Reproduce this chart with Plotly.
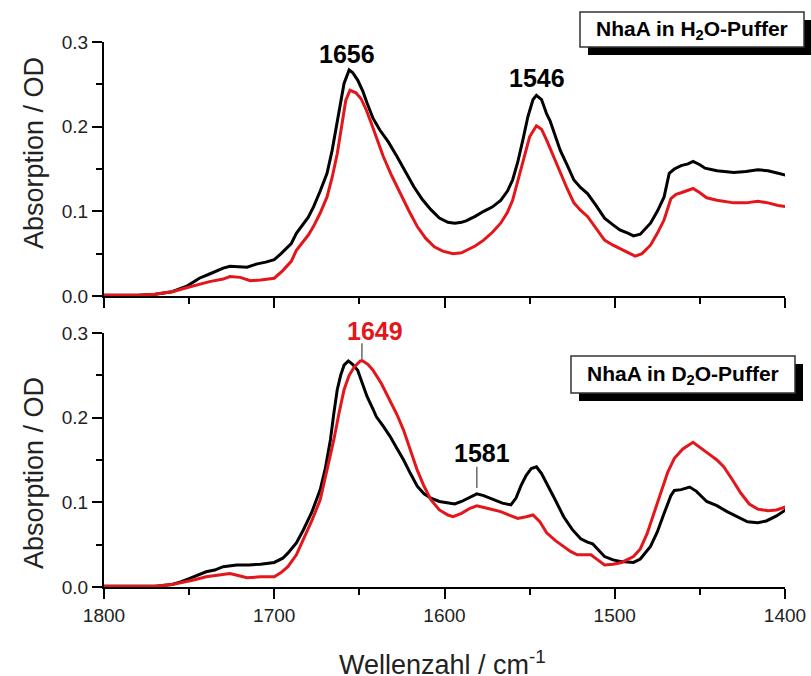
import plotly.graph_objects as go

# ---------------- data ----------------
h2o_wn_black = [1800, 1790, 1780, 1770, 1760, 1751, 1744, 1738, 1730, 1726, 1720, 1716, 1710, 1705, 1700,
                1696, 1690, 1687, 1680, 1677, 1673, 1669, 1666, 1663, 1661, 1659, 1656, 1654, 1651, 1648,
                1645.5, 1642, 1638, 1633, 1628, 1623, 1618, 1613, 1608, 1603, 1598, 1594, 1590, 1587, 1582,
                1577, 1572, 1567, 1563, 1560, 1557, 1554, 1551, 1548, 1546, 1543, 1540, 1538, 1535, 1532,
                1528, 1524, 1520, 1516, 1511, 1506, 1501, 1497, 1492, 1489, 1485, 1479, 1475, 1471, 1468,
                1465, 1461, 1457, 1454, 1450, 1447, 1440, 1430, 1423, 1416, 1410, 1404, 1398]
h2o_abs_black = [0.001, 0.001, 0.001, 0.002, 0.005, 0.012, 0.021, 0.026, 0.033, 0.035, 0.034, 0.034, 0.038, 0.040, 0.043,
                 0.050, 0.062, 0.074, 0.093, 0.105, 0.124, 0.145, 0.172, 0.204, 0.230, 0.251, 0.267, 0.264, 0.255, 0.242,
                 0.228, 0.210, 0.196, 0.182, 0.165, 0.147, 0.129, 0.114, 0.102, 0.092, 0.087, 0.086, 0.087, 0.089, 0.094,
                 0.100, 0.105, 0.113, 0.124, 0.137, 0.158, 0.184, 0.212, 0.232, 0.237, 0.232, 0.215, 0.207, 0.190, 0.172,
                 0.155, 0.137, 0.128, 0.121, 0.107, 0.092, 0.084, 0.078, 0.074, 0.071, 0.073, 0.086, 0.100, 0.117, 0.145,
                 0.150, 0.154, 0.156, 0.159, 0.155, 0.151, 0.148, 0.146, 0.147, 0.149, 0.148, 0.145, 0.142]

h2o_wn_red = [1800, 1790, 1780, 1770, 1760, 1751, 1744, 1738, 1730, 1726, 1720, 1714, 1708, 1700, 1695,
              1690, 1687, 1680, 1677, 1673, 1669, 1666, 1663, 1660, 1658, 1655.5, 1652, 1649, 1646, 1643,
              1640, 1636, 1631, 1626, 1621, 1616, 1611, 1606, 1601, 1595, 1590, 1587, 1582, 1577, 1572,
              1567, 1563, 1560, 1557, 1553, 1550, 1546, 1543, 1540, 1536, 1532, 1528, 1524, 1520, 1516,
              1511, 1506, 1501, 1497, 1492, 1488, 1484, 1479, 1475, 1471, 1467, 1464, 1461, 1457, 1454,
              1450, 1446, 1440, 1430, 1423, 1416, 1410, 1404, 1398]
h2o_abs_red = [0.001, 0.001, 0.001, 0.002, 0.005, 0.010, 0.014, 0.017, 0.020, 0.023, 0.022, 0.018, 0.019, 0.021, 0.030,
               0.041, 0.054, 0.072, 0.082, 0.098, 0.117, 0.140, 0.168, 0.208, 0.231, 0.243, 0.240, 0.233, 0.220, 0.204,
               0.187, 0.165, 0.142, 0.121, 0.101, 0.082, 0.068, 0.058, 0.053, 0.050, 0.051, 0.054, 0.059, 0.066, 0.075,
               0.086, 0.099, 0.113, 0.135, 0.165, 0.188, 0.201, 0.197, 0.184, 0.165, 0.145, 0.127, 0.110, 0.101, 0.094,
               0.080, 0.066, 0.060, 0.056, 0.051, 0.047, 0.050, 0.060, 0.074, 0.090, 0.115, 0.120, 0.122, 0.125, 0.127,
               0.122, 0.116, 0.113, 0.110, 0.110, 0.112, 0.110, 0.107, 0.105]

d2o_wn_black = [1800, 1790, 1780, 1770, 1760, 1755, 1750, 1745, 1740, 1735, 1730, 1722, 1715, 1708, 1700,
                1695, 1692, 1687, 1683, 1678, 1673, 1670, 1667, 1665, 1663, 1661, 1659, 1656.5, 1654, 1651,
                1648, 1645.5, 1642, 1640, 1636, 1632, 1628, 1624, 1620, 1616, 1612, 1608, 1603, 1598, 1594,
                1590, 1585, 1581, 1577, 1571, 1566, 1561, 1558, 1555, 1552, 1549, 1546, 1543, 1540, 1535,
                1530, 1525, 1520, 1516, 1513, 1510, 1506, 1501, 1496, 1489, 1485, 1479, 1475, 1471, 1467,
                1465, 1461, 1456, 1452, 1446, 1440, 1434, 1428, 1422, 1416, 1411, 1405, 1399]
d2o_abs_black = [0.001, 0.001, 0.001, 0.001, 0.003, 0.006, 0.010, 0.014, 0.018, 0.020, 0.024, 0.026, 0.026, 0.027, 0.029,
                 0.034, 0.040, 0.052, 0.067, 0.088, 0.115, 0.140, 0.174, 0.205, 0.233, 0.250, 0.262, 0.267, 0.263, 0.256,
                 0.240, 0.225, 0.210, 0.201, 0.190, 0.178, 0.164, 0.150, 0.134, 0.119, 0.110, 0.105, 0.101, 0.099, 0.098,
                 0.101, 0.106, 0.110, 0.108, 0.103, 0.099, 0.097, 0.105, 0.120, 0.132, 0.140, 0.142, 0.134, 0.123, 0.103,
                 0.083, 0.068, 0.057, 0.053, 0.051, 0.044, 0.036, 0.032, 0.030, 0.029, 0.033, 0.048, 0.065, 0.087, 0.108,
                 0.114, 0.115, 0.118, 0.113, 0.101, 0.096, 0.089, 0.083, 0.077, 0.076, 0.078, 0.084, 0.092]

d2o_wn_red = [1800, 1790, 1780, 1770, 1760, 1755, 1748, 1740, 1733, 1726, 1720, 1716, 1708, 1700, 1696,
              1692, 1687, 1683, 1678, 1673, 1669, 1665, 1662, 1659, 1656, 1653, 1649.5, 1648, 1645, 1642,
              1637, 1632, 1628, 1624, 1620, 1616, 1612, 1608, 1603, 1598, 1595, 1590, 1585, 1581, 1575,
              1567, 1562, 1557, 1552, 1548, 1544, 1540, 1535, 1530, 1526, 1522, 1514, 1510, 1506, 1501,
              1496, 1489, 1485, 1481, 1477, 1473, 1469, 1465, 1460, 1454, 1449, 1444, 1440, 1436, 1431,
              1426, 1421, 1416, 1410, 1405, 1399]
d2o_abs_red = [0.001, 0.001, 0.001, 0.001, 0.003, 0.005, 0.008, 0.012, 0.014, 0.016, 0.013, 0.011, 0.012, 0.012, 0.017,
               0.024, 0.038, 0.055, 0.078, 0.103, 0.137, 0.174, 0.205, 0.233, 0.250, 0.260, 0.267, 0.267, 0.263, 0.256,
               0.240, 0.221, 0.204, 0.185, 0.161, 0.138, 0.119, 0.103, 0.091, 0.085, 0.083, 0.087, 0.093, 0.096, 0.093,
               0.089, 0.085, 0.081, 0.083, 0.085, 0.077, 0.064, 0.055, 0.048, 0.042, 0.038, 0.038, 0.032, 0.026, 0.027,
               0.029, 0.036, 0.045, 0.063, 0.087, 0.111, 0.135, 0.152, 0.163, 0.171, 0.164, 0.156, 0.150, 0.142, 0.127,
               0.111, 0.098, 0.092, 0.090, 0.091, 0.095]

# peak labels
peak_wn = [1657, 1545.7, 1640.8, 1578]
peak_y = [0.286, 0.258, 0.290, 0.158]
peak_shift = [0, 0, 10, 0]
peak_text = ["1656", "1546", "1649", "1581"]
peak_panel = ["y", "y", "y2", "y2"]
peak_color = ["black", "black", "#e3161b", "black"]

# marker lines
mark_wn = [1648.5, 1581]
mark_y0 = [0.268, 0.117]
mark_y1 = [0.288, 0.142]

x_ticks = [1800, 1700, 1600, 1500, 1400]
y_ticks = [0.0, 0.1, 0.2, 0.3]

RED = "#e3161b"
FONT = "Arial, Liberation Sans, sans-serif"

fig = go.Figure()
fig.add_trace(go.Scatter(x=h2o_wn_black, y=h2o_abs_black, mode="lines", line=dict(color="black", width=3),
                         xaxis="x", yaxis="y", showlegend=False))
fig.add_trace(go.Scatter(x=h2o_wn_red, y=h2o_abs_red, mode="lines", line=dict(color=RED, width=3),
                         xaxis="x", yaxis="y", showlegend=False))
fig.add_trace(go.Scatter(x=d2o_wn_black, y=d2o_abs_black, mode="lines", line=dict(color="black", width=3),
                         xaxis="x2", yaxis="y2", showlegend=False))
fig.add_trace(go.Scatter(x=d2o_wn_red, y=d2o_abs_red, mode="lines", line=dict(color=RED, width=3),
                         xaxis="x2", yaxis="y2", showlegend=False))

W, H = 811, 676
ML, MR, MT, MB = 104, 26, 42, 89
PW, PH = W - ML - MR, H - MT - MB


def px_x(p):
    return (p - ML) / PW


def px_y(p):
    return (H - MB - p) / PH


top_dom = [px_y(296), 1.0]
bot_dom = [0.0, px_y(333)]

axis_common = dict(showline=True, linecolor="black", linewidth=2, ticks="outside", ticklen=10, tickwidth=2,
                   tickcolor="black", showgrid=False, zeroline=False, mirror=False, automargin=False,
                   tickfont=dict(family=FONT, size=19, color="#222"))
minor_x = dict(dtick=50, ticks="outside", ticklen=6, tickwidth=2, tickcolor="black", showgrid=False)
minor_y = dict(dtick=0.05, ticks="outside", ticklen=6, tickwidth=2, tickcolor="black", showgrid=False)

fig.update_layout(
    width=W, height=H, margin=dict(l=ML, r=MR, t=MT, b=MB, autoexpand=False),
    plot_bgcolor="white", paper_bgcolor="white",
    xaxis=dict(**axis_common, range=[1800, 1400], anchor="y", tickvals=x_ticks, showticklabels=False,
               minor=minor_x),
    xaxis2=dict(**axis_common, range=[1800, 1400], anchor="y2", tickvals=x_ticks, minor=minor_x),
    yaxis=dict(**axis_common, range=[0, 0.3], domain=top_dom, anchor="x", tickvals=y_ticks, tickformat=".1f",
               minor=minor_y),
    yaxis2=dict(**axis_common, range=[0, 0.3], domain=bot_dom, anchor="x2", tickvals=y_ticks, tickformat=".1f",
                minor=minor_y),
)

annotations = []
for wn, yv, ys, t, yr, c in zip(peak_wn, peak_y, peak_shift, peak_text, peak_panel, peak_color):
    annotations.append(dict(x=wn, y=yv, yshift=ys, xref="x" if yr == "y" else "x2", yref=yr,
                            text="<b>%s</b>" % t, showarrow=False, font=dict(family=FONT, size=25, color=c),
                            xanchor="center", yanchor="middle"))

# axis titles
for cy in (153, 473):
    annotations.append(dict(x=px_x(34), y=px_y(cy), xref="paper", yref="paper", text="Absorption / OD",
                            textangle=-90, showarrow=False, font=dict(family=FONT, size=27, color="#222"),
                            xanchor="center", yanchor="middle"))
annotations.append(dict(x=px_x(442), y=px_y(663), xref="paper", yref="paper", text="Wellenzahl / cm<sup>-1</sup>",
                        showarrow=False, font=dict(family=FONT, size=27, color="#222"),
                        xanchor="center", yanchor="middle"))

# label boxes with drop shadow
shapes = []
boxes = [((580, 12, 804, 47), "NhaA in H<sub>2</sub>O-Puffer"),
         ((571, 356, 795, 393), "NhaA in D<sub>2</sub>O-Puffer")]
for (x0, y0, x1, y1), txt in boxes:
    shapes.append(dict(type="rect", xref="paper", yref="paper", x0=px_x(x0 + 8), x1=px_x(x1 + 8),
                       y0=px_y(y1 + 8), y1=px_y(y0 + 8), fillcolor="black", line=dict(width=0), layer="above"))
    shapes.append(dict(type="rect", xref="paper", yref="paper", x0=px_x(x0), x1=px_x(x1),
                       y0=px_y(y1), y1=px_y(y0), fillcolor="white", line=dict(color="#333", width=1.5),
                       layer="above"))
    annotations.append(dict(x=px_x((x0 + x1) / 2), y=px_y((y0 + y1) / 2), xref="paper", yref="paper",
                            text="<b>%s</b>" % txt, showarrow=False,
                            font=dict(family=FONT, size=21, color="black"), xanchor="center", yanchor="middle"))

for wn, a, b in zip(mark_wn, mark_y0, mark_y1):
    shapes.append(dict(type="line", xref="x2", yref="y2", x0=wn, x1=wn, y0=a, y1=b,
                       line=dict(color="#444", width=1.2)))

fig.update_layout(annotations=annotations, shapes=shapes)
fig.write_html("out.html", config={"displayModeBar": False},
               post_script="document.body.style.margin='0';document.body.style.overflow='hidden';")
